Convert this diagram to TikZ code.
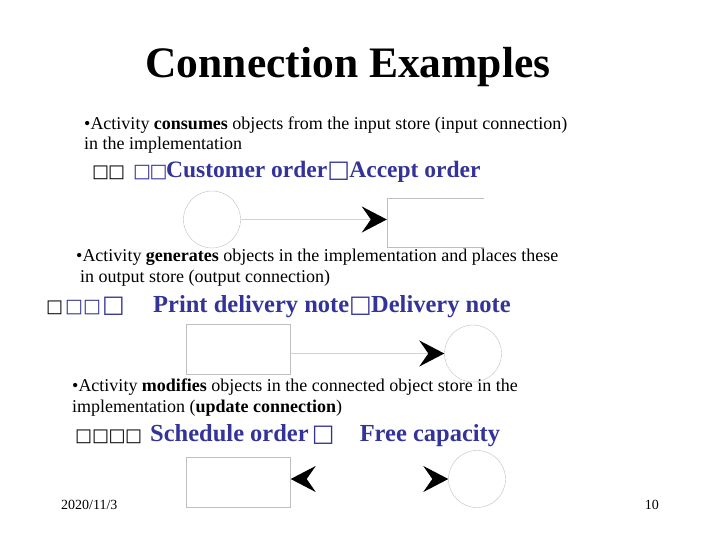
\documentclass[tikz,border=0pt]{standalone}
\usepackage{fontspec}
\setmainfont{Liberation Serif}
\newfontfamily\boxfont{DejaVu Sans}
\usepackage{tikz}
\usetikzlibrary{arrows.meta}
\usetikzlibrary{positioning}
\definecolor{slideblue}{RGB}{51,51,153}
% missing glyphs, each in a box of fixed width (pt)
\newcommand{\blk}[1]{\makebox[#1pt][l]{\color{black}\boxfont\fontsize{18}{20}\selectfont\mdseries □}}
\newcommand{\blt}[1]{\makebox[#1pt][l]{\boxfont\fontsize{19}{20}\selectfont\mdseries □}}
\newcommand{\blu}[1]{\makebox[#1pt][l]{\boxfont\fontsize{24}{26}\selectfont\bfseries □}}

\tikzset{
  store/.style={circle, draw=black!25, thin, minimum size=57pt, inner sep=0pt},
  impl/.style={rectangle, draw=black!25, thin, minimum width=104pt, minimum height=50pt, inner sep=0pt},
  bodytext/.style={anchor=base west, inner sep=0pt, font=\fontsize{18}{20}\selectfont},
  exline/.style={anchor=base west, inner sep=0pt, text=slideblue, font=\fontsize{23.5}{26}\selectfont\bfseries},
  conn/.style={draw=black!18, line width=1.6pt},
}

\begin{document}
\begin{tikzpicture}[x=1pt, y=-1pt, >={Stealth[length=25pt, width=26pt, inset=9pt, color=black]}]
  \useasboundingbox (0,0) rectangle (720,540);

  \node[anchor=base, inner sep=0pt, font=\fontsize{43.5}{46}\selectfont\bfseries] (title) at (348,78) {Connection Examples};

  % input connection
  \node[bodytext] (in1) at (84,130) {•Activity \textbf{consumes} objects from the input store (input connection)};
  \node[bodytext] (in2) at (84,150) {in the implementation};
  \node[exline] (inex) at (92,178) {\blk{16}\blk{25}\blt{16.5}\blt{16.5}Customer order\blu{22}Accept order};
  \node[store] (cust) at (212,219.5) {};
  \node[impl, draw=none, minimum width=97pt, minimum height=49pt] (accept) at (435.5,222.5) {};
  \draw[black!25, thin] (accept.north east) -- (accept.north west) -- (accept.south west) -- (accept.south east);
  \draw[conn, ->] (cust.east) -- (cust.east -| accept.west);

  % output connection
  \node[bodytext] (out1) at (76,261) {•Activity \textbf{generates} objects in the implementation and places these};
  \node[bodytext] (out2) at (80,282) {in output store (output connection)};
  \node[exline, font=\fontsize{24.5}{26}\selectfont\bfseries] (outex) at (46,312) {\blk{19}\blt{18}\blt{19}\blu{51}Print delivery note\blu{22}Delivery note};
  \node[impl] (print) at (238,349) {};
  \node[store] (delivery) at (473,353.5) {};
  \draw[conn, ->] (print.east |- delivery.west) -- (delivery.west);

  % update connection
  \node[bodytext] (upd1) at (72,391) {•Activity \textbf{modifies} objects in the connected object store in the};
  \node[bodytext] (upd2) at (72,412) {implementation (\textbf{update connection})};
  \node[exline, font=\fontsize{24.5}{26}\selectfont\bfseries] (updex) at (75,441) {\blk{17}\blk{16.5}\blk{16.5}\blk{25}Schedule order\hspace{3pt}\blu{48}Free capacity};
  \node[impl] (schedule) at (238.5,482.5) {};
  \node[store] (capacity) at (477,479) {};
  \draw[draw=white, line width=1.6pt, <->] (schedule.east |- capacity.west) -- (capacity.west);

  \node[anchor=base west, inner sep=0pt, font=\fontsize{14}{16}\selectfont] (date) at (61,509) {2020/11/3};
  \node[anchor=base east, inner sep=0pt, font=\fontsize{14}{16}\selectfont] (page) at (659,509) {10};
\end{tikzpicture}
\end{document}
